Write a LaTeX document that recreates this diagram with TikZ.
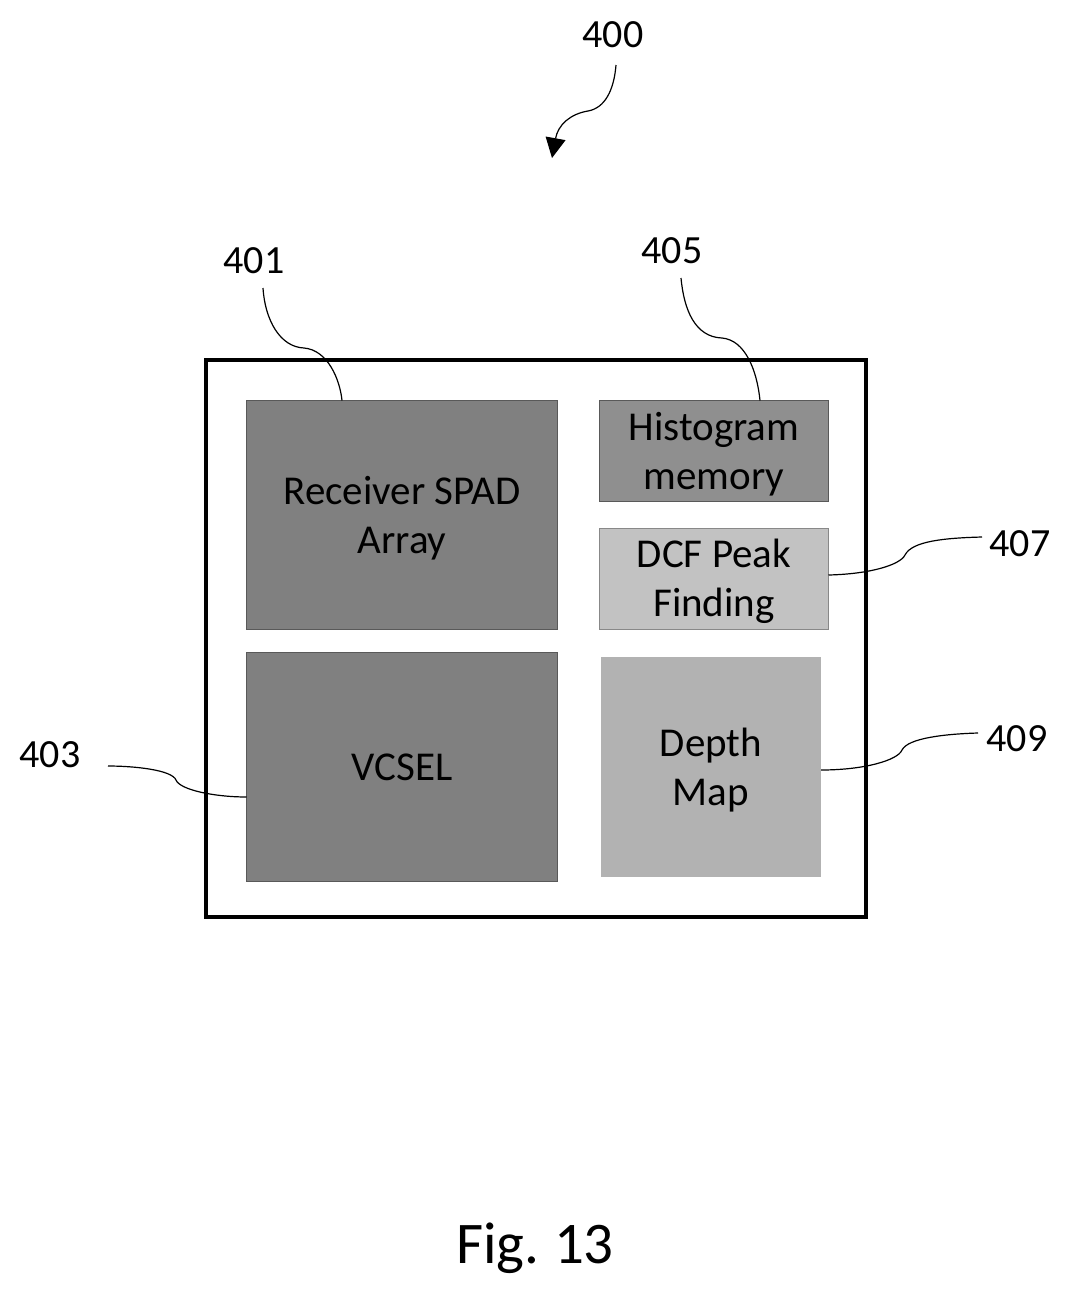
\documentclass[tikz,border=0pt]{standalone}
\usepackage{fontspec}
\setmainfont{Carlito}
\usetikzlibrary{arrows.meta}
\definecolor{gA}{gray}{0.50}
\definecolor{gB}{gray}{0.56}
\definecolor{gC}{gray}{0.76}
\definecolor{gD}{gray}{0.70}
\newcommand{\dropstrut}{\rule{0pt}{34pt}}
\tikzset{
  blockbox/.style={draw=gA!70!black,line width=0.6pt,inner sep=0pt,outer sep=0pt,align=center,text=black,font=\fontsize{41}{50}\selectfont},
  reflabel/.style={inner sep=0pt,font=\fontsize{40}{48}\selectfont,text=black},
  leader/.style={line width=1.2pt,black},
}
\begin{document}
\begin{tikzpicture}[x=1pt,y=-1pt]
\useasboundingbox (0,0) rectangle (1070,1294);
\node[blockbox,fill=gA,minimum width=311pt,minimum height=229pt] (spad) at (402,515) {\dropstrut Receiver SPAD\\[-1pt]Array};
\node[blockbox,fill=gA,minimum width=311pt,minimum height=229pt] (vcsel) at (402,767) {VCSEL};
\node[blockbox,fill=gB,minimum width=229pt,minimum height=101pt] (hist) at (714,451) {\dropstrut Histogram\\[-1pt]memory};
\node[blockbox,draw=gC!70!black,fill=gC,minimum width=229pt,minimum height=101pt] (dcf) at (714,579) {\dropstrut DCF Peak\\[-1pt]Finding};
\node[blockbox,draw=none,fill=gD,minimum width=220pt,minimum height=220pt] (depth) at (711,767) {\dropstrut Depth\\[-1pt]Map};
\node[reflabel] (l400) at (613,35) {400};
\node[reflabel] (l401) at (254,261) {401};
\node[reflabel] (l403) at (50,755) {403};
\node[reflabel] (l405) at (672,251) {405};
\node[reflabel] (l407) at (1020,544) {407};
\node[reflabel] (l409) at (1017,739) {409};
\node[inner sep=0pt,font=\fontsize{59}{70}\selectfont,text=black] (fig) at (535,1248) {Fig.\hspace{-3pt} 13};
\coordinate (s400) at (616,65);
\coordinate (e400) at (552,158);
\coordinate (s401) at (263,288);
\coordinate (s403) at (108,766);
\coordinate (s405) at (681,278);
\coordinate (s407) at (982,537);
\coordinate (s409) at (978,733);
\draw[leader,-{Triangle[length=20pt,width=20pt]}] (s400) .. controls (614,90) and (605,108) .. (588,111) .. controls (570,114) and (558,125) .. (e400);
\draw[leader] (s401) .. controls (265,320) and (280,347) .. (304,348) .. controls (328,350) and (340,380) .. (342,0 |- spad.north);
\draw[leader] (s403) .. controls (135,766) and (172,770) .. (176,780) .. controls (180,790) and (215,797) .. ([yshift=-30pt]vcsel.west);
\draw[leader] (s405) .. controls (684,310) and (695,337) .. (722,338) .. controls (745,340) and (757,370) .. (760,0 |- hist.north);
\draw[leader] (s407) .. controls (945,538) and (912,541) .. (905,555) .. controls (900,565) and (870,574) .. ([yshift=4pt]dcf.east);
\draw[leader] (s409) .. controls (945,734) and (908,738) .. (902,750) .. controls (898,760) and (865,770) .. ([yshift=-3pt]depth.east);
\node[draw=black,line width=4pt,minimum width=660pt,minimum height=557pt,inner sep=0pt] (frame) at (536,638.5) {};
\end{tikzpicture}
\end{document}
